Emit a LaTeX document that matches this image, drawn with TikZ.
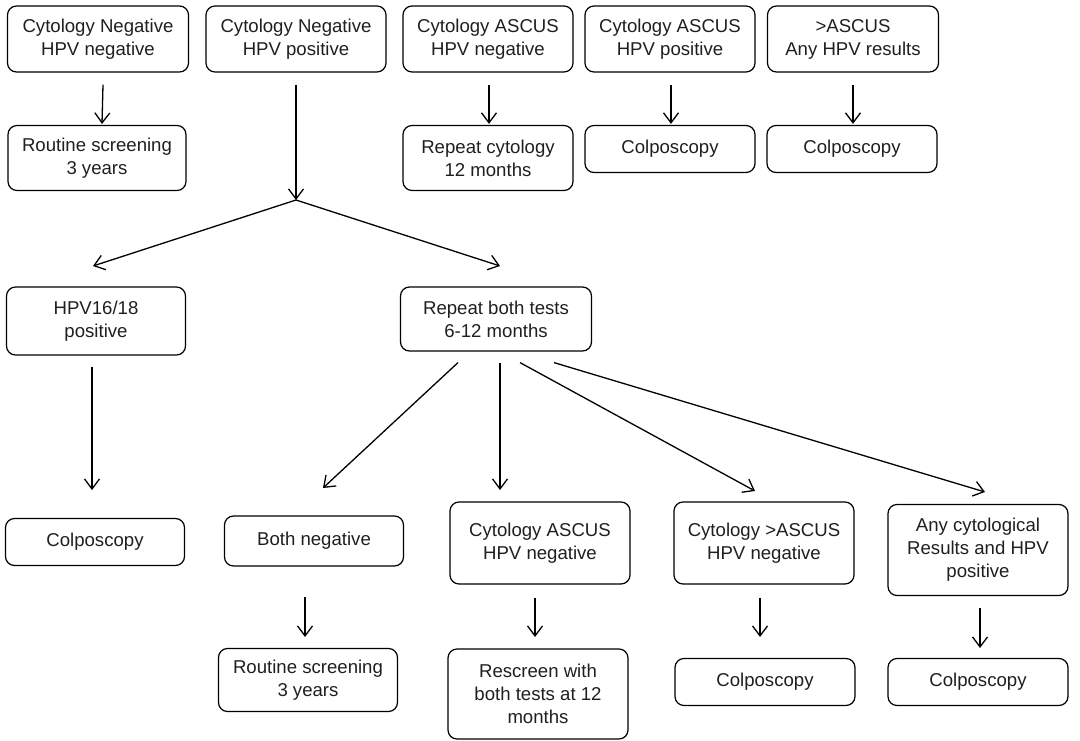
\documentclass[tikz,border=0pt]{standalone}
\usepackage{fontspec}
\setmainfont{Liberation Sans}
\usetikzlibrary{arrows.meta,calc}
\begin{document}
\begin{tikzpicture}[x=1pt,y=-1pt,
  box/.style={draw, line width=1.2pt, rounded corners=9pt, align=center,
    font=\fontsize{18.6}{23}\selectfont, inner sep=0pt, text=black!88},
  arr/.style={line width=1.3pt, -{Straight Barb[length=10pt,width=15pt]}},
  ln/.style={line width=1.3pt}]
\useasboundingbox (0,0) rectangle (1080,741);

% first row: initial co-test results
\node[box, minimum width=181, minimum height=66] (t1) at (98,39) {Cytology Negative\\HPV negative};
\node[box, minimum width=180, minimum height=66] (t2) at (296,39) {Cytology Negative\\HPV positive};
\node[box, minimum width=170, minimum height=66] (t3) at (488,39) {Cytology ASCUS\\HPV negative};
\node[box, minimum width=170, minimum height=66] (t4) at (670,39) {Cytology ASCUS\\HPV positive};
\node[box, minimum width=171, minimum height=66] (t5) at (853,39) {>ASCUS\\Any HPV results};

% second row: actions
\node[box, minimum width=178, minimum height=65] (r1) at (97,158) {Routine screening\\3 years};
\node[box, minimum width=170, minimum height=65] (r3) at (488,158) {Repeat cytology\\12 months};
\node[box, minimum width=170, minimum height=47] (r4) at (670,149) {Colposcopy};
\node[box, minimum width=170, minimum height=47] (r5) at (852,149) {Colposcopy};

% third row: HPV-positive branch
\node[box, minimum width=179, minimum height=68] (hpv) at (96,321) {HPV16/18\\positive};
\node[box, minimum width=191, minimum height=64] (rep) at (496,319) {Repeat both tests\\6-12 months};

% fourth row
\node[box, minimum width=179, minimum height=47] (c1) at (95,542) {Colposcopy};
\node[box, minimum width=179, minimum height=50] (bn) at (314,541) {Both negative};
\node[box, minimum width=180, minimum height=82] (as) at (540,543) {Cytology ASCUS\\HPV negative};
\node[box, minimum width=180, minimum height=82] (gt) at (764,543) {Cytology >ASCUS\\HPV negative};
\node[box, minimum width=180, minimum height=91] (an) at (978,550) {Any cytological\\Results and HPV\\positive};

% fifth row
\node[box, minimum width=179, minimum height=63] (rs) at (308,680) {Routine screening\\3 years};
\node[box, minimum width=180, minimum height=90] (rsc) at (538,694) {Rescreen with\\both tests at 12\\months};
\node[box, minimum width=180, minimum height=47] (c3) at (765,682) {Colposcopy};
\node[box, minimum width=180, minimum height=47] (c4) at (978,682) {Colposcopy};

% free arrow ends and branch point
\coordinate (j) at (296,200);
\coordinate (jl) at (93,266);
\coordinate (jr) at (500,266);
\coordinate (h1) at (92,490);
\coordinate (e1) at (323,488);
\coordinate (e2) at (500,490);
\coordinate (e3) at (755,491);
\coordinate (e4) at (985,492);
\coordinate (s1) at (305,637);
\coordinate (s2) at (535,637);
\coordinate (s3) at (760,637);
\coordinate (s4) at (980,648);

% top arrows
\draw[arr] ([xshift=5pt,yshift=-12pt]t1.south) -- ([xshift=5pt,yshift=1pt]r1.north);
\draw[arr] ([xshift=1pt,yshift=-12pt]t3.south) -- ([xshift=1pt,yshift=1pt]r3.north);
\draw[arr] ([xshift=1pt,yshift=-12pt]t4.south) -- ([xshift=1pt,yshift=1pt]r4.north);
\draw[arr] ([yshift=-12pt]t5.south) -- ([xshift=1pt,yshift=1pt]r5.north);
\draw[arr] ([yshift=-12pt]t2.south) -- (j);
\draw[arr] (j) -- (jl);
\draw[arr] (j) -- (jr);

% HPV16/18 branch
\draw[arr] ($(hpv.south -| h1)+(0,11)$) -- (h1);

% repeat-both-tests branches
\draw[arr] ($(rep.south)+(-38,11)$) -- (e1);
\draw[arr] ($(rep.south -| e2)+(0,11)$) -- (e2);
\draw[arr] ($(rep.south)+(24,11)$) -- (e3);
\draw[arr] ($(rep.south)+(58,11)$) -- (e4);

% bottom arrows
\draw[arr] ($(bn.south -| s1)+(0,30)$) -- (s1);
\draw[arr] ($(as.south -| s2)+(0,13)$) -- (s2);
\draw[arr] ($(gt.south -| s3)+(0,13)$) -- (s3);
\draw[arr] ($(an.south -| s4)+(0,12)$) -- (s4);
\end{tikzpicture}
\end{document}
